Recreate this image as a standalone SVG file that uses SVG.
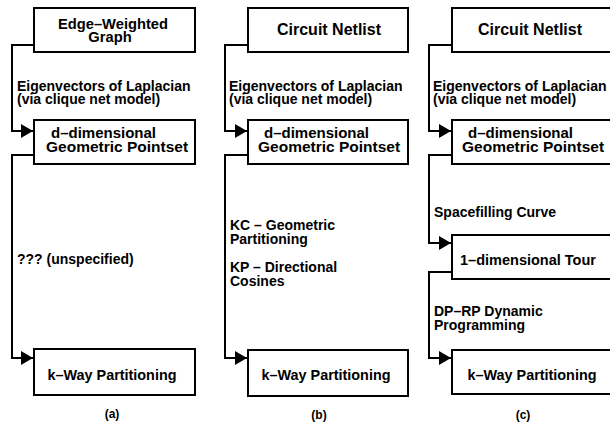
<svg xmlns="http://www.w3.org/2000/svg" width="610" height="423" viewBox="0 0 610 423">
<defs>
<marker id="ah" markerWidth="12" markerHeight="14" refX="12" refY="7" orient="auto" markerUnits="userSpaceOnUse">
<path d="M0,0 L12,7 L0,14 Z" fill="#000"/>
</marker>
<style>
.box{fill:#fff;stroke:#000;stroke-width:2}
.con{fill:none;stroke:#000;stroke-width:2}
text{font-family:"Liberation Sans",Arial,sans-serif;font-weight:bold;font-size:14px;fill:#000}
.c{text-anchor:middle}
.bx{font-size:15px}
.gp{font-size:15.5px}
.cn{font-size:16px}
.cap{font-size:12px;text-anchor:middle}
</style>
</defs>
<rect width="610" height="423" fill="#fff"/>
<g id="connectors">
<path class="con" d="M34,45 H12 V131 H33" marker-end="url(#ah)"/>
<path class="con" d="M34,155 H12 V358 H33" marker-end="url(#ah)"/>
<path class="con" d="M248,45 H225 V131 H247" marker-end="url(#ah)"/>
<path class="con" d="M248,155 H225 V358 H247" marker-end="url(#ah)"/>
<path class="con" d="M452,45 H429 V131 H451" marker-end="url(#ah)"/>
<path class="con" d="M452,155 H429 V243 H451" marker-end="url(#ah)"/>
<path class="con" d="M452,272 H429 V358 H451" marker-end="url(#ah)"/>
</g>
<g id="labels">
<text x="17" y="91">Eigenvectors of Laplacian</text>
<text x="17" y="104">(via clique net model)</text>
<text x="17" y="264">??? (unspecified)</text>
<text x="229" y="91">Eigenvectors of Laplacian</text>
<text x="229" y="104">(via clique net model)</text>
<text x="230" y="230">KC – Geometric</text>
<text x="230" y="244">Partitioning</text>
<text x="230" y="272">KP – Directional</text>
<text x="230" y="286">Cosines</text>
<text x="433" y="91">Eigenvectors of Laplacian</text>
<text x="433" y="104">(via clique net model)</text>
<text x="434" y="217">Spacefilling Curve</text>
<text x="434" y="316">DP–RP Dynamic</text>
<text x="434" y="330">Programming</text>
</g>
<g id="a-graph"><rect class="box" x="34" y="8" width="161" height="44"/><text class="c" x="113" y="29" style="font-size:14.7px">Edge–Weighted</text><text class="c" x="110" y="42" style="font-size:14.7px">Graph</text></g>
<g id="a-pointset"><rect class="box" x="34" y="120" width="161" height="44"/><text class="bx" x="51" y="138">d–dimensional</text><text class="gp" x="46" y="152">Geometric Pointset</text></g>
<g id="a-kway"><rect class="box" x="34" y="349" width="161" height="46"/><text class="c" x="112" y="380" style="font-size:14.4px">k–Way Partitioning</text></g>
<text id="cap-a" class="cap" x="112" y="418">(a)</text>
<g id="b-netlist"><rect class="box" x="248" y="8" width="160" height="44"/><text class="c cn" x="329" y="35">Circuit Netlist</text></g>
<g id="b-pointset"><rect class="box" x="248" y="120" width="160" height="44"/><text class="bx" x="264" y="138">d–dimensional</text><text class="gp" x="258" y="152">Geometric Pointset</text></g>
<g id="b-kway"><rect class="box" x="248" y="350" width="160" height="46"/><text class="c" x="326" y="380" style="font-size:14.4px">k–Way Partitioning</text></g>
<text id="cap-b" class="cap" x="319" y="419">(b)</text>
<g id="c-netlist"><rect class="box" x="452" y="8" width="160" height="44"/><text class="c cn" x="530" y="35">Circuit Netlist</text></g>
<g id="c-pointset"><rect class="box" x="452" y="120" width="160" height="44"/><text class="bx" x="468" y="138">d–dimensional</text><text class="gp" x="462" y="152">Geometric Pointset</text></g>
<g id="c-tour"><rect class="box" x="452" y="235" width="160" height="44"/><text class="c" x="528" y="265" style="font-size:14.5px">1–dimensional Tour</text></g>
<g id="c-kway"><rect class="box" x="452" y="350" width="160" height="44"/><text class="c" x="532" y="380" style="font-size:14.4px">k–Way Partitioning</text></g>
<text id="cap-c" class="cap" x="523" y="419">(c)</text>
</svg>
